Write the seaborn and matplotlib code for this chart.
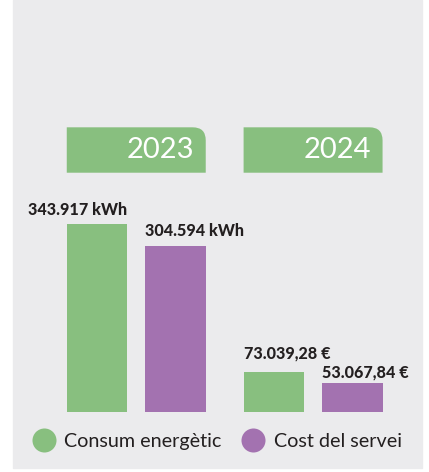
import pandas as pd
import matplotlib
matplotlib.use("Agg")
import matplotlib.pyplot as plt
import seaborn as sns
from matplotlib.patches import Rectangle, PathPatch
from matplotlib.path import Path
from matplotlib.lines import Line2D
import matplotlib.transforms as mtransforms

# dades del gràfic
anys = ["2023", "2024"]
series = ["Consum energètic", "Cost del servei"]
consum = [343917, 73039.28]
cost = [304594, 53067.84]
etiquetes_consum = ["343.917 kWh", "73.039,28 €"]
etiquetes_cost = ["304.594 kWh", "53.067,84 €"]

VERD = "#88bf7f"
LILA = "#a372b0"
GRIS = "#ebebed"
TEXT = "#231f20"

df = pd.DataFrame({
    "any": anys * 2,
    "serie": [series[0]] * 2 + [series[1]] * 2,
    "valor": consum + cost,
})

sns.set_style("white")
plt.rcParams["font.family"] = ["Lato", "DejaVu Sans"]

fig = plt.figure(figsize=(4.29, 4.72), dpi=100)
fig.patch.set_facecolor("white")
# fons gris de la targeta
fig.add_artist(Rectangle((13 / 429, 3.7 / 472), 409 / 429, 468.3 / 472,
                         transform=fig.transFigure, color=GRIS, zorder=0))

ax = fig.add_axes([13 / 429, 59.7 / 472, 409 / 429, 412.3 / 472])
ax.set_facecolor("none")
ax.set_zorder(1)

sns.barplot(data=df, x="any", y="valor", hue="serie", palette=[VERD, LILA],
            saturation=1, width=0.888, gap=0.23, legend=False, linewidth=0,
            ax=ax)

ax.set_xlim(-0.697, 1.616)
ax.set_ylim(0, 753000)
ax.set_axis_off()

barres = [b for cont in ax.containers for b in cont]

# etiquetes de valor
etiquetes = [etiquetes_consum, etiquetes_cost]
desplacament = [[6.5, 10.3], [7.0, 4.1]]  # punts sobre la barra
for i, cont in enumerate(ax.containers):
    for j, barra in enumerate(cont):
        if i == 0 and j == 0:
            x, ha = barra.get_x() + barra.get_width(), "right"
        else:
            x, ha = barra.get_x(), "left"
        ax.annotate(etiquetes[i][j], (x, barra.get_height()),
                    xytext=(0, desplacament[i][j]), textcoords="offset points",
                    ha=ha, va="baseline", fontsize=11.6, fontweight="black",
                    color=TEXT)

# capçaleres dels anys
trans = mtransforms.blended_transform_factory(ax.transData, ax.transAxes)
y0, y1 = 0.5811, 0.6912
rx, ry = 13 / 176.8, 13 / 412.3
for j, nom in enumerate(anys):
    grup = [b for b in barres if round(b.get_x() + b.get_width() / 2) == j]
    x0 = min(b.get_x() for b in grup)
    x1 = max(b.get_x() + b.get_width() for b in grup)
    verts = [(x0, y0), (x1, y0), (x1, y1 - ry), (x1, y1), (x1 - rx, y1),
             (x0, y1), (x0, y0)]
    codes = [Path.MOVETO, Path.LINETO, Path.LINETO, Path.CURVE3, Path.CURVE3,
             Path.LINETO, Path.CLOSEPOLY]
    ax.add_patch(PathPatch(Path(verts, codes), transform=trans,
                           facecolor=VERD, edgecolor="none", clip_on=False))
    ax.text(x1 - 11.7 / 176.8, 0.6175, nom, transform=trans, ha="right",
            va="baseline", fontsize=21, fontweight="normal", color="white")

# llegenda
mans = [Line2D([], [], marker="o", linestyle="", markersize=17.3,
               markerfacecolor=c, markeredgecolor="none") for c in (VERD, LILA)]
fig.legend(mans, series, loc="center left", bbox_to_anchor=(32 / 429, 30.7 / 472),
           ncol=2, frameon=False, fontsize=14.2, handlelength=1.2,
           handletextpad=0.42, columnspacing=1.03, borderpad=0,
           borderaxespad=0, labelcolor=TEXT)

fig.savefig("out.png", dpi=100, facecolor="white")
